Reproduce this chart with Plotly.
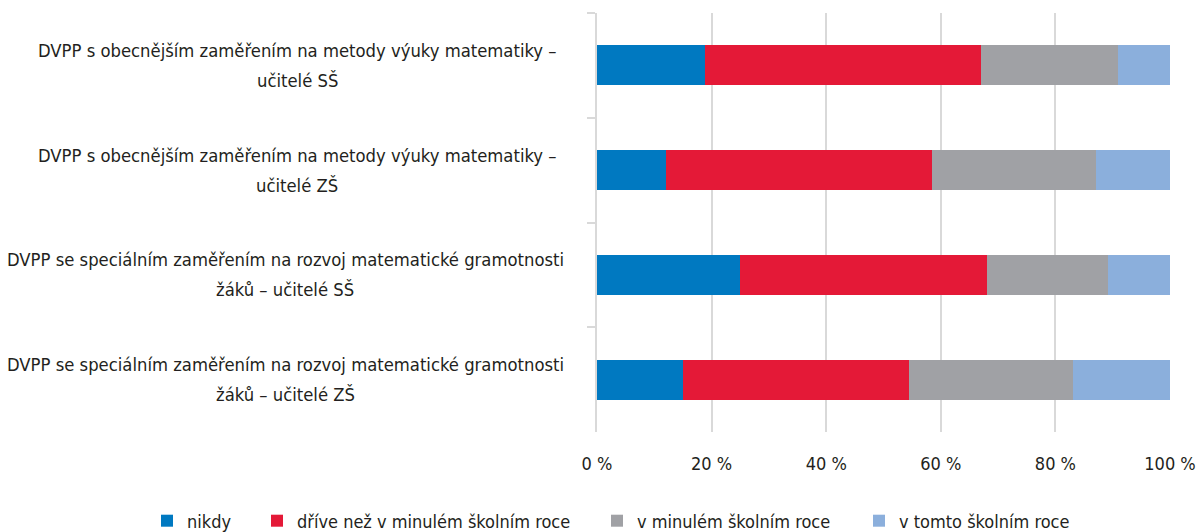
import plotly.graph_objects as go

category_line1 = [
    "DVPP s obecnějším zaměřením na metody výuky matematiky –",
    "DVPP s obecnějším zaměřením na metody výuky matematiky –",
    "DVPP se speciálním zaměřením na rozvoj matematické gramotnosti",
    "DVPP se speciálním zaměřením na rozvoj matematické gramotnosti",
]
category_line2 = [
    "učitelé SŠ",
    "učitelé ZŠ",
    "žáků – učitelé SŠ",
    "žáků – učitelé ZŠ",
]
categories = [a + " " + b for a, b in zip(category_line1, category_line2)]
series_names = [
    "nikdy",
    "dříve než v minulém školním roce",
    "v minulém školním roce",
    "v tomto školním roce",
]
nikdy = [18.9, 12.1, 25.0, 15.0]
drive = [48.1, 46.4, 43.1, 39.5]
minuly = [24.0, 28.5, 21.1, 28.6]
tento = [9.0, 13.0, 10.8, 16.9]
series_values = [nikdy, drive, minuly, tento]
colors = ["#0079C1", "#E41937", "#A0A1A5", "#8BAFDC"]
tick_vals = [0, 20, 40, 60, 80, 100]
tick_text = ["0 %", "20 %", "40 %", "60 %", "80 %", "100 %"]

FONT = "DejaVu Sans Condensed, Liberation Sans Narrow, Liberation Sans, sans-serif"
TXT = "#231F20"
FS = 18

W, H = 1198, 532
ML, MR, MT, MB = 597, 28, 13, 100
PW = W - ML - MR
PH = H - MT - MB

legend_ids = ["legend", "legend2", "legend3", "legend4"]
legend_left_px = [147, 257, 597, 859]
legend_mid_px = 521

fig = go.Figure()
for name, vals, col, lid in zip(series_names, series_values, colors, legend_ids):
    fig.add_trace(go.Bar(
        y=categories, x=vals, name=name, orientation="h",
        marker=dict(color=col, line=dict(width=0)),
        legend=lid,
    ))

# category labels: two centred lines
label_centres_px = [297, 297, 285, 285]
for cat, l1, l2, cx in zip(categories, category_line1, category_line2, label_centres_px):
    for txt, ys in ((l1, 15), (l2, -15)):
        fig.add_annotation(
            x=(cx - ML) / PW, xref="paper", y=cat, yref="y", yshift=ys,
            text=txt, showarrow=False, xanchor="center",
            yanchor="middle", align="center",
            font=dict(family=FONT, size=18.3, color=TXT),
        )

legend_layout = {}
for lid, lx in zip(legend_ids, legend_left_px):
    legend_layout[lid] = dict(
        orientation="h", x=(lx - ML) / PW, xref="paper", xanchor="left",
        y=-(legend_mid_px - (H - MB)) / PH, yref="paper", yanchor="middle",
        bgcolor="rgba(0,0,0,0)",
        font=dict(family=FONT, size=FS, color=TXT),
    )

fig.update_layout(
    barmode="stack",
    bargap=0.62,
    width=W, height=H,
    margin=dict(l=ML, r=MR, t=MT, b=MB, autoexpand=False),
    paper_bgcolor="white", plot_bgcolor="white",
    font=dict(family=FONT, size=FS, color=TXT),
    showlegend=True,
    xaxis=dict(range=[0, 100], tickvals=tick_vals, ticktext=tick_text,
               showgrid=True, gridcolor="#D9D9D9", gridwidth=1.5,
               zeroline=False, showline=False, ticks="",
               tickfont=dict(family=FONT, size=FS, color=TXT),
               ticklabelstandoff=19, fixedrange=True),
    yaxis=dict(autorange="reversed", showticklabels=False,
               showline=True, linecolor="#D9D9D9", linewidth=1.5,
               ticks="outside", tickson="boundaries", ticklen=8,
               tickcolor="#D9D9D9", tickwidth=1.5, showgrid=False,
               fixedrange=True),
    **legend_layout,
)
fig.write_html("out.html", config={"displayModeBar": False},
               post_script="document.body.style.margin='0';")
